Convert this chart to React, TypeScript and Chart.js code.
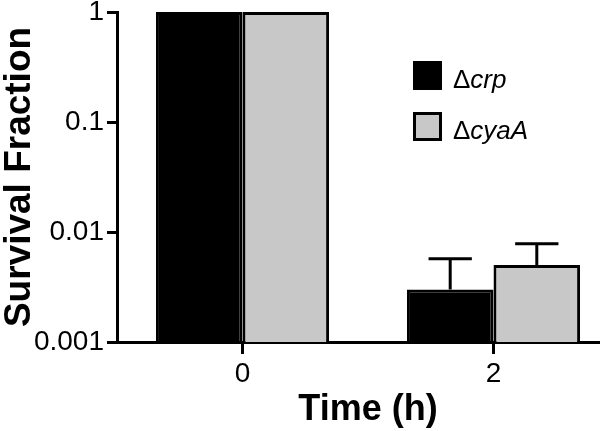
import React, { useEffect, useRef } from 'react';
import { Chart, registerables } from 'chart.js';
Chart.register(...registerables);

const timeLabels = ['0', '2'];
const crpValues = [1, 0.003];
const cyaAValues = [1, 0.005];
const crpErrorUpper: (number | null)[] = [null, 0.0057];
const cyaAErrorUpper: (number | null)[] = [null, 0.0078];
const yTickValues = [0.001, 0.01, 0.1, 1];
const yTickLabels = ['0.001', '0.01', '0.1', '1'];
const seriesNames = ['Δcrp', 'ΔcyaA'];
const seriesColors = ['#000000', '#c8c8c8'];

const FAMILY = '"Liberation Sans", Arial, Helvetica, sans-serif';

const errorBarPlugin = {
  id: 'errorBars',
  afterDatasetsDraw(chart: any) {
    const ctx = chart.ctx;
    const yScale = chart.scales.y;
    chart.data.datasets.forEach((ds: any, i: number) => {
      const meta = chart.getDatasetMeta(i);
      const errs: (number | null)[] = ds.errorUpper || [];
      meta.data.forEach((bar: any, j: number) => {
        const e = errs[j];
        if (e == null) return;
        const yTop = yScale.getPixelForValue(e);
        const x = bar.x;
        const half = bar.width * 0.25;
        ctx.save();
        ctx.strokeStyle = '#000';
        ctx.lineWidth = 3;
        ctx.beginPath();
        ctx.moveTo(x, bar.y);
        ctx.lineTo(x, yTop);
        ctx.moveTo(x - half, yTop);
        ctx.lineTo(x + half, yTop);
        ctx.stroke();
        ctx.restore();
      });
    });
  },
};

const legendPlugin = {
  id: 'customLegend',
  afterDraw(chart: any) {
    const ctx = chart.ctx;
    const o = chart.options.plugins.customLegend;
    chart.data.datasets.forEach((ds: any, i: number) => {
      const bx = o.x;
      const by = o.y + i * o.spacing;
      ctx.save();
      ctx.fillStyle = ds.backgroundColor;
      ctx.fillRect(bx, by, o.box, o.box);
      ctx.strokeStyle = '#000';
      ctx.lineWidth = 3;
      ctx.strokeRect(bx + 1.5, by + 1.5, o.box - 3, o.box - 3);
      ctx.fillStyle = '#000';
      ctx.textBaseline = 'alphabetic';
      ctx.textAlign = 'left';
      const label: string = ds.label;
      const pre = label.slice(0, 1);
      const rest = label.slice(1);
      const baseY = by + o.baseline;
      ctx.font = `${o.fontSize}px ${FAMILY}`;
      const tx = bx + o.box + o.gap;
      ctx.fillText(pre, tx, baseY);
      const w = ctx.measureText(pre).width;
      ctx.font = `italic ${o.fontSize}px ${FAMILY}`;
      ctx.fillText(rest, tx + w, baseY);
      ctx.restore();
    });
  },
};

export default function App() {
  const ref = useRef<HTMLCanvasElement | null>(null);
  useEffect(() => {
    document.body.style.margin = '0';
    document.body.style.overflow = 'hidden';
    const canvas = ref.current!;
    const chart = new Chart(canvas, {
      type: 'bar',
      data: {
        labels: timeLabels,
        datasets: [
          {
            label: seriesNames[0],
            data: crpValues,
            backgroundColor: seriesColors[0],
            borderColor: '#000',
            borderWidth: 3,
            errorUpper: crpErrorUpper,
          } as any,
          {
            label: seriesNames[1],
            data: cyaAValues,
            backgroundColor: seriesColors[1],
            borderColor: '#000',
            borderWidth: 3,
            errorUpper: cyaAErrorUpper,
          } as any,
        ],
      },
      options: {
        responsive: false,
        animation: false,
        devicePixelRatio: 1,
        layout: { padding: { left: 0, top: 12, right: 21, bottom: 0 } },
        datasets: { bar: { categoryPercentage: 0.69, barPercentage: 1 } },
        plugins: {
          legend: { display: false },
          tooltip: { enabled: false },
          customLegend: { x: 413, y: 61, spacing: 51, box: 29, gap: 11, fontSize: 26, baseline: 27 },
        } as any,
        scales: {
          x: {
            type: 'category',
            offset: true,
            grid: {
              offset: false,
              drawOnChartArea: false,
              drawTicks: true,
              tickLength: 12,
              tickWidth: 3,
              tickColor: '#000',
            },
            border: { display: true, width: 3, color: '#000' },
            ticks: {
              color: '#000',
              padding: 6,
              font: { family: FAMILY, size: 28, lineHeight: 1 },
            },
            title: {
              display: true,
              text: 'Time (h)',
              color: '#000',
              font: { family: FAMILY, size: 36, weight: 'bold', lineHeight: 1 },
              padding: { top: 0, bottom: 3 },
            },
            afterFit(scale: any) {
              scale.height = 89;
            },
          },
          y: {
            type: 'logarithmic',
            min: 0.001,
            max: 1,
            grid: {
              drawOnChartArea: false,
              drawTicks: true,
              tickLength: 10,
              tickWidth: 3,
              tickColor: '#000',
            },
            border: { display: true, width: 3, color: '#000' },
            afterBuildTicks(scale: any) {
              scale.ticks = yTickValues.map((v) => ({ value: v }));
            },
            ticks: {
              color: '#000',
              padding: 3,
              font: { family: FAMILY, size: 28, lineHeight: 0.6 },
              callback: (value: any) => {
                const idx = yTickValues.findIndex((v) => Math.abs(v - Number(value)) < v * 1e-6);
                return idx >= 0 ? yTickLabels[idx] : '';
              },
            },
            title: {
              display: true,
              text: 'Survival Fraction',
              color: '#000',
              font: { family: FAMILY, size: 37, weight: 'bold', lineHeight: 1 },
              padding: { top: 1, bottom: 0 },
            },
            afterFit(scale: any) {
              scale.width = 117;
            },
          },
        },
      },
      plugins: [errorBarPlugin, legendPlugin],
    } as any);
    return () => chart.destroy();
  }, []);
  return (
    <div
      style={{
        position: 'fixed',
        left: 0,
        top: 0,
        width: 600,
        height: 431,
        overflow: 'hidden',
        background: '#fff',
      }}
    >
      <canvas ref={ref} width={640} height={431} style={{ width: 640, height: 431, display: 'block' }} />
    </div>
  );
}
